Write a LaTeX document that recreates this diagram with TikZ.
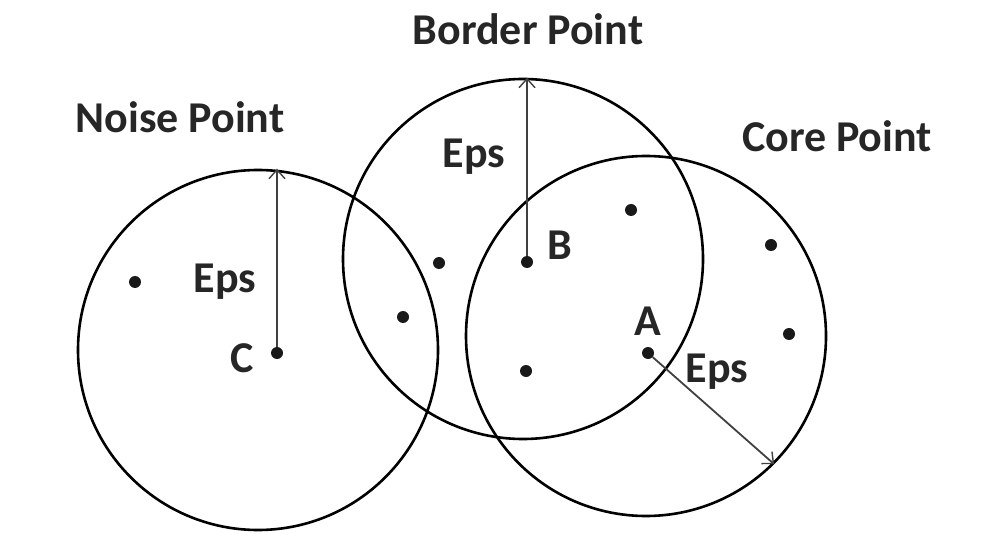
\documentclass[tikz,border=0pt]{standalone}
\usepackage{fontspec}
\setmainfont{Carlito}
\usetikzlibrary{arrows.meta}
\tikzstyle{region} = [circle, draw=black, line width=2.6pt, minimum size=360pt, inner sep=0pt]
\tikzstyle{pnt} = [circle, fill=black!90, inner sep=0pt, minimum size=12pt]
\tikzstyle{lbl} = [anchor=base, inner sep=0pt, text=black!85, font=\fontsize{44}{50}\selectfont\bfseries]
\tikzstyle{radius} = [line width=1.8pt, draw=black!75, -{Straight Barb[length=9pt,width=16pt,line width=1.4pt]}]

\begin{document}
\begin{tikzpicture}[x=1pt, y=-1pt]
    \useasboundingbox (0,0) rectangle (987,534);

    % Regioes
    \node (nc) [region] at (258,350) {};
    \node (bc) [region] at (523,259) {};
    \node (ac) [region] at (646,336) {};

    % Pontos
    \node (c) [pnt] at (277,353) {};
    \node (b) [pnt] at (527,262) {};
    \node (a) [pnt] at (648,353) {};
    \node (p1) [pnt] at (135,282) {};
    \node (p2) [pnt] at (403,317) {};
    \node (p3) [pnt] at (439,263) {};
    \node (p4) [pnt] at (631,210) {};
    \node (p5) [pnt] at (526,371) {};
    \node (p6) [pnt] at (771,245) {};
    \node (p7) [pnt] at (789,334) {};

    % Textos
    \node (tnoise) [lbl] at (180,133) {Noise Point};
    \node (tborder) [lbl] at (528,45) {Border Point};
    \node (tcore) [lbl] at (837,152) {Core Point};
    \node (epsc) [lbl] at (225,293) {Eps};
    \node (epsb) [lbl] at (474,168) {Eps};
    \node (epsa) [lbl] at (717,382) {Eps};
    \node (tc) [lbl] at (242,372) {C};
    \node (tb) [lbl] at (560,260) {B};
    \node (ta) [lbl] at (648,335) {A};

    % Raios
    \draw [radius] (c) -- (c |- nc.north);
    \draw [radius] (b) -- (b |- bc.north);
    \draw [radius] (a) -- (ac.-45);

\end{tikzpicture}
\end{document}
